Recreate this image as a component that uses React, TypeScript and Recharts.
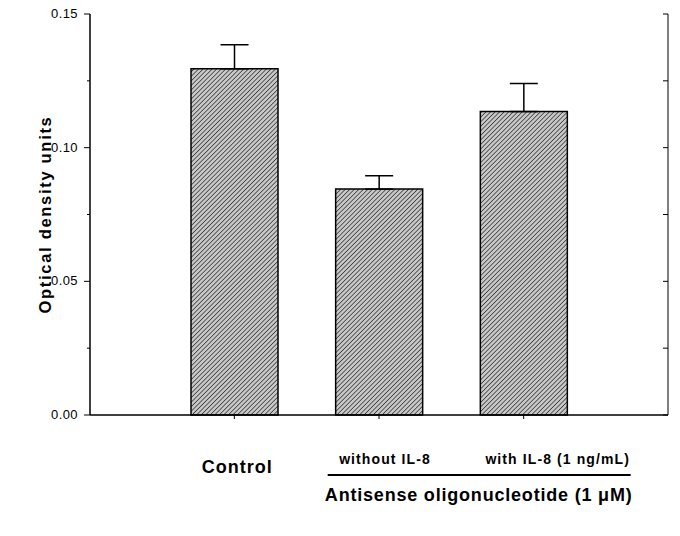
import React from 'react';
import {ComposedChart, Bar, Line, XAxis, YAxis, ErrorBar} from 'recharts';

const groups = ['Control', 'without IL-8', 'with IL-8 (1 ng/mL)'];
const density = [0.1295, 0.0845, 0.1135];
const sem = [0.009, 0.005, 0.0105];
const yTicks = [0, 0.025, 0.05, 0.075, 0.1, 0.125, 0.15];
const groupLabel = 'Antisense oligonucleotide (1 \u03bcM)';

const data = groups.map((g, i) => ({name: g, od: density[i], err: [0, sem[i]]}));

const font = '"Liberation Sans", Arial, sans-serif';

const LeftTick = (props: any) => {
	const {x, y, payload} = props;
	const v = payload.value;
	const major = Math.abs(v * 20 - Math.round(v * 20)) < 1e-6;
	return (
		<g>
			<line x1={x} x2={x - (major ? 6 : 3)} y1={y} y2={y} stroke="#000" strokeWidth={1}/>
			{major && (
				<text x={x - 12} y={y} dy={4} textAnchor="end" fontFamily={font} fontSize={13} letterSpacing={0.4} fill="#000">
					{v.toFixed(2)}
				</text>
			)}
		</g>
	);
};

const RightTick = (props: any) => {
	const {x, y} = props;
	return <line x1={x} x2={x - 5} y1={y} y2={y} stroke="#000" strokeWidth={1}/>;
};

const BottomTick = (props: any) => {
	const {x, y, index, payload} = props;
	const first = index === 0;
	return (
		<g>
			<line x1={x} x2={x} y1={y - 1} y2={y + 4} stroke="#000" strokeWidth={1}/>
			<text x={x + (first ? 3 : index === 1 ? 6 : 34)} y={first ? y + 58 : y + 49}
				textAnchor="middle" fontFamily={font} fontWeight="bold" fontSize={first ? 18 : 14}
				letterSpacing={first ? 1 : 1.1} fill="#000">
				{payload.value}
			</text>
			{index === 2 && (
				<g>
					<line x1={x - 196} x2={x + 107} y1={y + 60} y2={y + 60} stroke="#000" strokeWidth={1.8}/>
					<text x={x - 45} y={y + 86} textAnchor="middle" fontFamily={font} fontWeight="bold" fontSize={18}
						letterSpacing={0.8} fill="#000">
						{groupLabel}
					</text>
				</g>
			)}
		</g>
	);
};

const App = () => {
	return (
		<div style={{position: 'absolute', left: 0, top: 0, background: '#fff'}}>
			<ComposedChart width={680} height={536} data={data} margin={{top: 14, right: 11, left: 30, bottom: 21}}>
				<defs>
					<pattern id="hatch" width={3.2} height={3.2} patternUnits="userSpaceOnUse" patternTransform="rotate(45)">
						<rect width={3.2} height={3.2} fill="#c8c8c8"/>
						<line x1={0} y1={0} x2={0} y2={3.2} stroke="#2a2a2a" strokeWidth={1.4}/>
					</pattern>
				</defs>
				<XAxis dataKey="name" height={100} padding={{left: 72, right: 72}} axisLine={{stroke: '#000', strokeWidth: 1.5}}
					tickLine={false} tickSize={0} tickMargin={0} tick={<BottomTick/>} interval={0}/>
				<YAxis yAxisId="l" width={60} domain={[0, 0.15]} ticks={yTicks} axisLine={{stroke: '#000', strokeWidth: 1.5}}
					tickLine={false} tickSize={0} tickMargin={0} tick={<LeftTick/>} interval={0}
					label={{value: 'Optical density units', angle: -90, position: 'insideLeft', offset: 15,
						style: {textAnchor: 'middle', fontFamily: font, fontWeight: 'bold', fontSize: 16.5, letterSpacing: 1.7, fill: '#000'}}}/>
				<YAxis yAxisId="r" orientation="right" width={1} domain={[0, 0.15]} ticks={yTicks} interval={0}
					axisLine={{stroke: '#000', strokeWidth: 1}} tickLine={false} tickSize={0} tickMargin={0} tick={<RightTick/>}/>
				<Bar yAxisId="l" dataKey="od" barSize={87} fill="url(#hatch)" stroke="#000" strokeWidth={1.5} isAnimationActive={false}>
					<ErrorBar dataKey="err" width={14} stroke="#000" strokeWidth={1.5} direction="y"/>
				</Bar>
				<Line yAxisId="r" dataKey="od" stroke="none" dot={false} activeDot={false} legendType="none" isAnimationActive={false}/>
			</ComposedChart>
		</div>
	);
};

export default App;
